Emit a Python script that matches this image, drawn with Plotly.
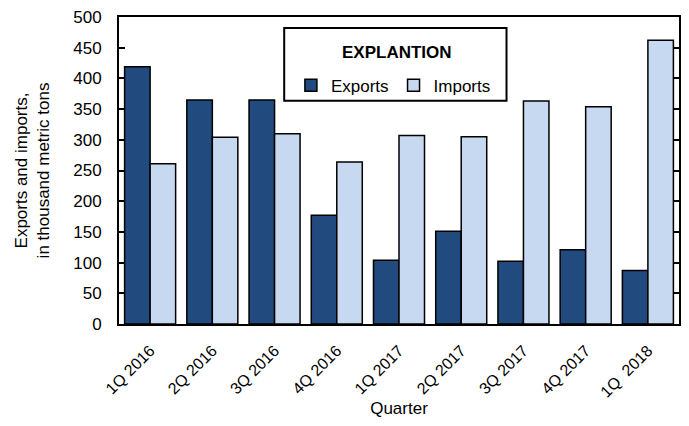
import plotly.graph_objects as go

quarters = ["1Q 2016", "2Q 2016", "3Q 2016", "4Q 2016", "1Q 2017",
            "2Q 2017", "3Q 2017", "4Q 2017", "1Q  2018"]
exports = [419, 365, 365, 177, 104, 151, 102, 121, 87]
imports = [261, 304, 310, 264, 307, 305, 363, 354, 462]
yticks = [0, 50, 100, 150, 200, 250, 300, 350, 400, 450, 500]

FONT = "Liberation Sans Narrow, Arial Narrow, Liberation Sans, Arial, sans-serif"

fig = go.Figure()
fig.add_trace(go.Bar(name="Exports", x=quarters, y=exports,
                     marker=dict(color="#214A7E", line=dict(color="black", width=1.5))))
fig.add_trace(go.Bar(name="Imports", x=quarters, y=imports,
                     marker=dict(color="#C6D9F0", line=dict(color="black", width=1.5))))

# page body has an 8px margin, so the figure is sized/offset to compensate
fig.update_layout(
    width=673, height=410,
    margin=dict(l=111, r=0, t=8, b=94),
    paper_bgcolor="white", plot_bgcolor="white",
    font=dict(family=FONT, size=17, color="black"),
    barmode="group", bargap=0.18, bargroupgap=0,
    showlegend=True,
    legend=dict(
        orientation="h", x=0.490, xanchor="center", y=0.776, yanchor="middle",
        bgcolor="rgba(0,0,0,0)", borderwidth=0,
        font=dict(family=FONT, size=17),
        itemwidth=30, tracegroupgap=0,
    ),
    shapes=[dict(type="rect", xref="paper", yref="paper",
                 x0=0.295, x1=0.692, y0=0.727, y1=0.964,
                 line=dict(color="black", width=2), fillcolor="white", layer="below")],
    annotations=[dict(text="<b>EXPLANTION</b>", xref="paper", yref="paper",
                      x=0.496, y=0.884, xanchor="center", yanchor="middle",
                      showarrow=False, font=dict(family=FONT, size=17))],
)
fig.update_xaxes(
    showline=True, linecolor="black", linewidth=2, mirror=True,
    ticks="", tickangle=-45, tickfont=dict(family=FONT, size=16),
    ticklabelstandoff=9,
    title=dict(text="Quarter", font=dict(family=FONT, size=17), standoff=4),
)
fig.update_yaxes(
    range=[0, 500], tickvals=yticks, showgrid=False, zeroline=False,
    showline=True, linecolor="black", linewidth=2, mirror="ticks",
    ticks="inside", ticklen=6, tickcolor="black", tickwidth=1.5,
    ticklabelstandoff=12, ticklabeloverflow="allow",
    tickfont=dict(family=FONT, size=17),
    title=dict(text="Exports and imports,<br>in thousand metric tons",
               font=dict(family=FONT, size=17), standoff=19),
)

fig.write_html("out.html")
